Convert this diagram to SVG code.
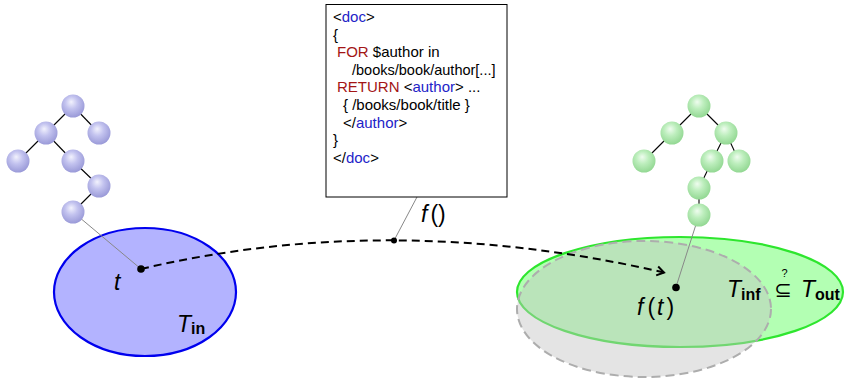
<svg xmlns="http://www.w3.org/2000/svg" width="845" height="378" viewBox="0 0 845 378">
<defs>
<radialGradient id="gb" cx="0.45" cy="0.4" r="0.6" fx="0.42" fy="0.32">
<stop offset="0" stop-color="#f2f2fd"/>
<stop offset="0.45" stop-color="#c3c3ef"/>
<stop offset="1" stop-color="#9a9ad8"/>
</radialGradient>
<radialGradient id="gg" cx="0.45" cy="0.4" r="0.6" fx="0.42" fy="0.32">
<stop offset="0" stop-color="#effcef"/>
<stop offset="0.45" stop-color="#bdeebd"/>
<stop offset="1" stop-color="#93d893"/>
</radialGradient>
<marker id="arr" markerWidth="12" markerHeight="12" refX="9" refY="6" orient="auto" markerUnits="userSpaceOnUse">
<path d="M2,1.5 L9,6 L2,10.5" fill="none" stroke="#000" stroke-width="2"/>
</marker>
</defs>
<style>
.edge{stroke:#000;stroke-width:1.1}
.bb{fill:url(#gb)}
.gb{fill:url(#gg)}
.lead{stroke:#888;stroke-width:1;fill:none}
.code{font-family:"Liberation Sans",Arial,sans-serif;font-size:15px;fill:#000}
.kw{fill:#a31515}
.tag{fill:#2323c8}
.math{font-family:"Liberation Sans",Arial,sans-serif;font-size:23px;font-style:italic;fill:#000}
.up{font-style:normal}
.sub{font-family:"Liberation Sans",Arial,sans-serif;font-size:16px;font-weight:bold;font-style:normal}
</style>

<g id="set-out">
<ellipse cx="680" cy="292" rx="163" ry="55" fill="#b3ffb3" stroke="#2ee62e" stroke-width="2.2"/>
</g>
<g id="set-inf">
<ellipse cx="644" cy="309" rx="127" ry="68" fill="#c4c4c4" fill-opacity="0.45" stroke="#adadad" stroke-width="2" stroke-dasharray="9,5"/>
</g>
<g id="set-in">
<ellipse cx="145" cy="292" rx="91" ry="64" fill="#b3b3ff" stroke="#0000ee" stroke-width="2.2"/>
</g>

<g id="connectors">
<line class="lead" x1="73" y1="212" x2="141" y2="269"/>
<line class="lead" x1="699" y1="215" x2="676" y2="287"/>
<line class="lead" x1="417" y1="197" x2="394" y2="240.5"/>
<path d="M141,269 Q391,210 664,272.5" fill="none" stroke="#000" stroke-width="2" stroke-dasharray="8,5" marker-end="url(#arr)"/>
<circle cx="141" cy="269" r="3.8" fill="#000"/>
<circle cx="676" cy="287.5" r="3.8" fill="#000"/>
<circle cx="394" cy="240.5" r="3" fill="#000"/>
</g>

<g id="tree-in">
<line class="edge" x1="73" y1="106" x2="46" y2="133"/>
<line class="edge" x1="73" y1="106" x2="99" y2="133"/>
<line class="edge" x1="46" y1="133" x2="18" y2="161"/>
<line class="edge" x1="46" y1="133" x2="73" y2="161"/>
<line class="edge" x1="73" y1="161" x2="99" y2="186"/>
<line class="edge" x1="99" y1="186" x2="73" y2="212"/>
<circle class="bb" cx="73" cy="106" r="11.5"/>
<circle class="bb" cx="46" cy="133" r="11.5"/>
<circle class="bb" cx="99" cy="133" r="11.5"/>
<circle class="bb" cx="18" cy="161" r="11.5"/>
<circle class="bb" cx="73" cy="161" r="11.5"/>
<circle class="bb" cx="99" cy="186" r="11.5"/>
<circle class="bb" cx="73" cy="212" r="11.5"/>
</g>

<g id="tree-out">
<line class="edge" x1="699" y1="106" x2="672" y2="133"/>
<line class="edge" x1="699" y1="106" x2="726" y2="133"/>
<line class="edge" x1="672" y1="133" x2="644" y2="161"/>
<line class="edge" x1="726" y1="133" x2="712" y2="161"/>
<line class="edge" x1="726" y1="133" x2="739" y2="161"/>
<line class="edge" x1="712" y1="161" x2="699" y2="188"/>
<line class="edge" x1="699" y1="188" x2="699" y2="215"/>
<circle class="gb" cx="699" cy="106" r="11.5"/>
<circle class="gb" cx="672" cy="133" r="11.5"/>
<circle class="gb" cx="726" cy="133" r="11.5"/>
<circle class="gb" cx="644" cy="161" r="11.5"/>
<circle class="gb" cx="712" cy="161" r="11.5"/>
<circle class="gb" cx="739" cy="161" r="11.5"/>
<circle class="gb" cx="699" cy="188" r="11.5"/>
<circle class="gb" cx="699" cy="215" r="11.5"/>
</g>

<g id="code">
<rect x="326" y="4.5" width="181" height="192.5" fill="#fff" stroke="#000" stroke-width="1"/>
<text class="code" x="333" y="22">&lt;<tspan class="tag">doc</tspan>&gt;</text>
<text class="code" x="333" y="39.6">{</text>
<text class="code" x="337" y="57.2"><tspan class="kw">FOR</tspan> $author in</text>
<text class="code" x="352" y="74.8" style="font-size:14.5px">/books/book/author[...]</text>
<text class="code" x="337" y="92.4"><tspan class="kw">RETURN</tspan> &lt;<tspan class="tag">author</tspan>&gt; ...</text>
<text class="code" x="343" y="110">{ /books/book/title }</text>
<text class="code" x="343" y="127.6">&lt;/<tspan class="tag">author</tspan>&gt;</text>
<text class="code" x="333" y="145.2">}</text>
<text class="code" x="333" y="162.8">&lt;/<tspan class="tag">doc</tspan>&gt;</text>
</g>

<g id="labels">
<text class="math" x="421" y="222">f<tspan class="up" dx="3">()</tspan></text>
<text class="math" x="114" y="290">t</text>
<text class="math" x="177" y="332">T<tspan class="sub" dy="2">in</tspan></text>
<text class="math" x="637" y="315">f<tspan class="up" dx="4">(</tspan><tspan dx="2">t</tspan><tspan class="up" dx="3">)</tspan></text>
<text class="math" x="727" y="297">T<tspan class="sub" dy="3">inf</tspan></text>
<text x="783" y="297" font-family="DejaVu Sans,sans-serif" font-size="21" text-anchor="middle">⊆</text>
<text x="784.5" y="277" font-family="Liberation Sans,Arial,sans-serif" font-size="11" text-anchor="middle">?</text>
<text class="math" x="801" y="297">T<tspan class="sub" dy="3">out</tspan></text>
</g>
</svg>
